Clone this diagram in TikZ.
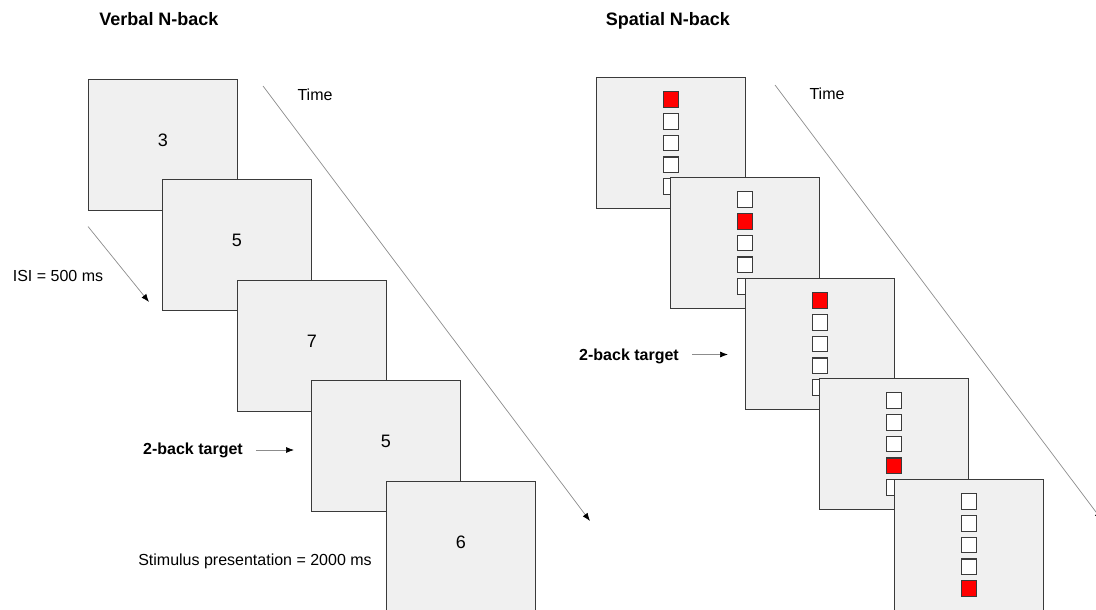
\documentclass[tikz,border=0pt]{standalone}
\usepackage{fontspec}
\setmainfont{Liberation Sans}
\usetikzlibrary{arrows.meta,positioning}

\definecolor{panelgray}{HTML}{F0F0F0}
\definecolor{edgegray}{HTML}{3A3A3A}
\definecolor{linegray}{HTML}{8C8C8C}
\definecolor{cellred}{HTML}{FF0000}

\begin{document}
\begin{tikzpicture}[x=1pt, y=-1pt]
  \def\panelw{149pt}
  \def\panelh{131pt}
  \def\cellsize{15.5pt}
  \def\cellstep{21.7}
  \tikzstyle{panel} = [rectangle, draw=edgegray, fill=panelgray, line width=1.6pt, minimum width=\panelw, minimum height=\panelh, inner sep=0pt]
  \tikzstyle{cell} = [rectangle, draw=edgegray, fill=white, line width=1.1pt, minimum size=\cellsize, inner sep=0pt]
  \tikzstyle{digit} = [font=\fontsize{18}{20}\selectfont, inner sep=0pt]
  \tikzstyle{label} = [font=\fontsize{16}{19}\selectfont, anchor=base, inner sep=0pt]
  \tikzstyle{bold label} = [label, font=\fontsize{16}{19}\selectfont\bfseries]
  \tikzstyle{title} = [label, font=\fontsize{18}{21}\selectfont\bfseries]
  \tikzstyle{pointer} = [draw=linegray, line width=0.7pt, -{Latex[length=8pt, width=6pt, color=black]}]

  % column of five cells, #1 = panel name, #2 = red cell
  \def\cellcolumn#1#2{
    \foreach \k in {0,...,4} {
      \ifnum\k=#2
        \node[cell, fill=cellred] (#1c\k) at (0, -2*\cellstep+\k*\cellstep) {};
      \else
        \node[cell] (#1c\k) at (0, -2*\cellstep+\k*\cellstep) {};
      \fi
    }
  }

  \useasboundingbox (0,0) rectangle (1096,610);

  \node[title] (vtitle) at (159, 26) {Verbal N-back};
  \node[title] (stitle) at (668, 26) {Spatial N-back};

  % verbal
  \begin{scope}[shift={(163,145)}]
    \node[panel] (v1) at (0, 0) {};
    \node[digit] (d1) at (0, -4.5) {3};
  \end{scope}

  \begin{scope}[shift={(237,245)}]
    \node[panel] (v2) at (0, 0) {};
    \node[digit] (d2) at (0, -4.5) {5};
  \end{scope}

  \begin{scope}[shift={(312,346)}]
    \node[panel] (v3) at (0, 0) {};
    \node[digit] (d3) at (0, -4.5) {7};
  \end{scope}

  \begin{scope}[shift={(386,446)}]
    \node[panel] (v4) at (0, 0) {};
    \node[digit] (d4) at (0, -4.5) {5};
  \end{scope}

  \begin{scope}[shift={(461,547)}]
    \node[panel] (v5) at (0, 0) {};
    \node[digit] (d5) at (0, -4.5) {6};
  \end{scope}

  \node[label] (vtime) at (315, 100) {Time};
  \coordinate (vt0) at (263, 86);
  \coordinate (vt1) at (590, 521);
  \draw[pointer] (vt0) -- (vt1);

  \node[label] (isi) at (58, 281) {ISI = 500 ms};
  \coordinate (isi0) at (88, 226.5);
  \coordinate (isi1) at (149, 302);
  \draw[pointer] (isi0) -- (isi1);

  \node[bold label] (vtarget) at (193, 454.5) {2-back target};
  \coordinate (va) at (294, 450);
  \draw[pointer] ([xshift=13pt]vtarget.east |- va) -- (va);

  \node[label] (stim) at (255, 565) {Stimulus presentation = 2000 ms};

  % spatial
  \begin{scope}[shift={(671,143)}]
    \node[panel] (s1) at (0, 0) {};
    \cellcolumn{s1}{0}
  \end{scope}

  \begin{scope}[shift={(745,243)}]
    \node[panel] (s2) at (0, 0) {};
    \cellcolumn{s2}{1}
  \end{scope}

  \begin{scope}[shift={(820,344)}]
    \node[panel] (s3) at (0, 0) {};
    \cellcolumn{s3}{0}
  \end{scope}

  \begin{scope}[shift={(894,444)}]
    \node[panel] (s4) at (0, 0) {};
    \cellcolumn{s4}{3}
  \end{scope}

  \begin{scope}[shift={(969,545)}]
    \node[panel] (s5) at (0, 0) {};
    \cellcolumn{s5}{4}
  \end{scope}

  \node[label] (stime) at (827, 99.5) {Time};
  \coordinate (st0) at (775, 85);
  \coordinate (st1) at (1102, 520);
  \draw[pointer] (st0) -- (st1);

  \node[bold label] (starget) at (629, 360) {2-back target};
  \coordinate (sa) at (728, 354.5);
  \draw[pointer] ([xshift=13pt]starget.east |- sa) -- (sa);

\end{tikzpicture}
\end{document}
